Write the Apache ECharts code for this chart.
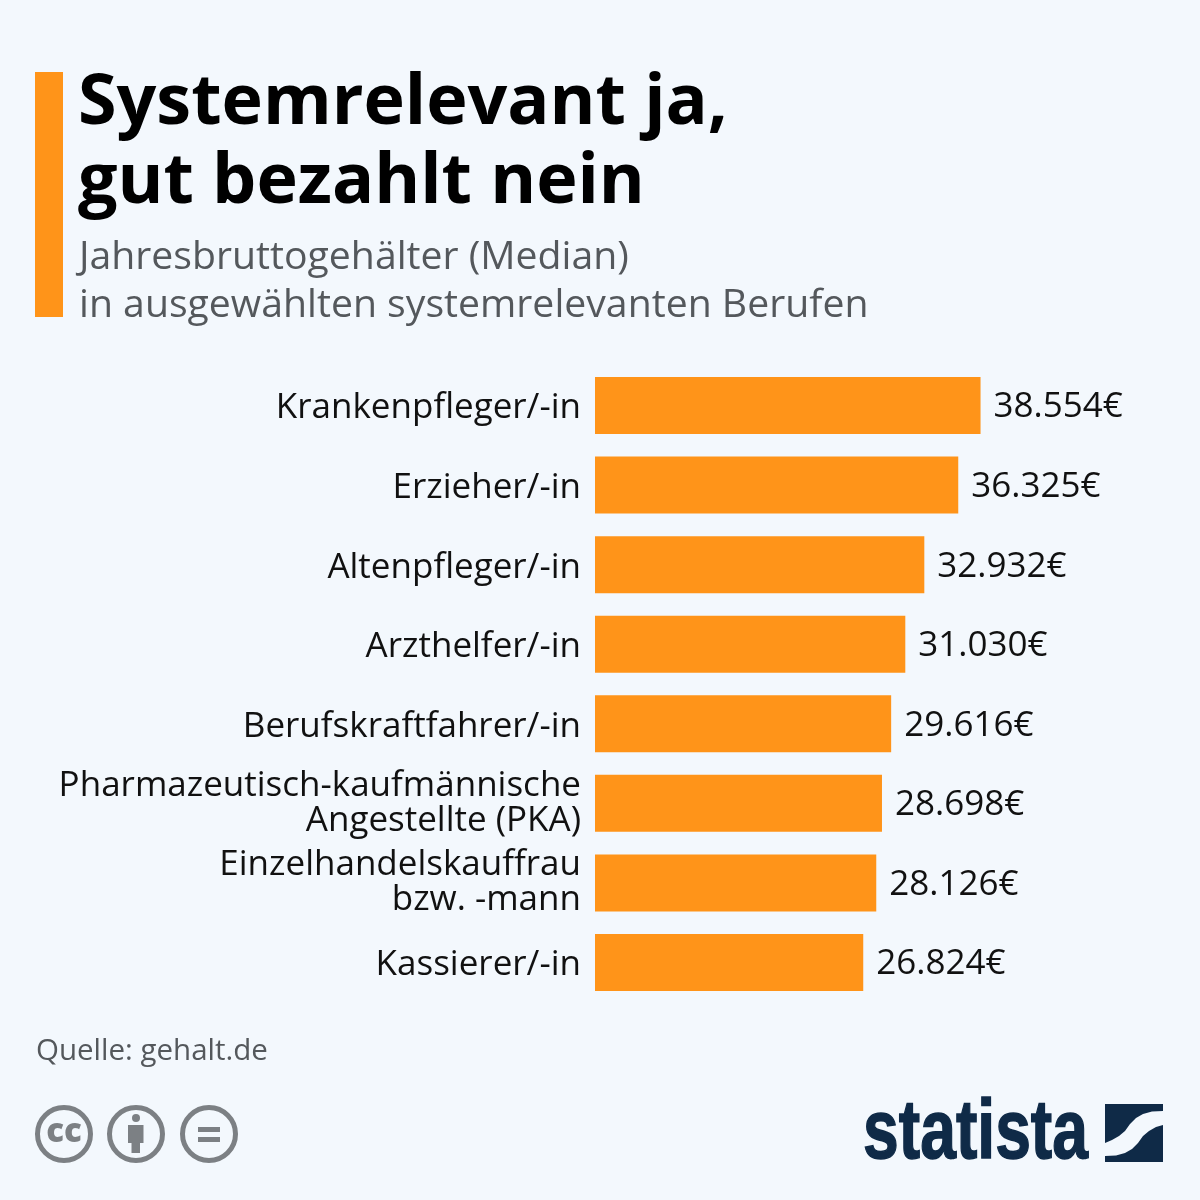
<!DOCTYPE html>
<html>
<head>
<meta charset="utf-8">
<style>
  html, body { margin: 0; padding: 0; background: #f3f8fd; }
  #chart { width: 1200px; height: 1200px; }
</style>
<script src="https://cdn.jsdelivr.net/npm/echarts@6/dist/echarts.min.js"></script>
</head>
<body>
<div id="chart"></div>
<script>
const categories = [
  'Krankenpfleger/-in',
  'Erzieher/-in',
  'Altenpfleger/-in',
  'Arzthelfer/-in',
  'Berufskraftfahrer/-in',
  'Pharmazeutisch-kaufmännische\nAngestellte (PKA)',
  'Einzelhandelskauffrau\nbzw. -mann',
  'Kassierer/-in'
];
const salaries = [38554, 36325, 32932, 31030, 29616, 28698, 28126, 26824];

const orange = '#ff9419';
const navy = '#0f2a47';
const iconGrey = '#7c8084';
const font = '"Open Sans", sans-serif';

// logo swoosh outlines
const logoTop = [[1105,1104],[1163,1104],[1163,1111],[1152,1111.5],[1143,1114],[1136,1118],[1130,1124],[1125,1131],[1119,1136],[1112,1140],[1105,1143]];
const logoBottom = [[1163,1125],[1163,1162],[1105,1162],[1105,1156],[1116,1155.5],[1125,1153],[1132,1149],[1138,1143],[1143,1136],[1149,1131],[1156,1127]];

const chart = echarts.init(document.getElementById('chart'));

const ring = (cx) => ({
  type: 'circle',
  shape: { cx: cx, cy: 1134, r: 26.5 },
  style: { fill: 'none', stroke: iconGrey, lineWidth: 5 }
});

const labelText = { fontFamily: font, fontSize: 35, lineHeight: 35, color: '#111', align: 'right' };

chart.setOption({
  backgroundColor: '#f3f8fd',
  animation: false,
  title: [
    {
      text: 'Systemrelevant ja,\ngut bezahlt nein',
      left: 78, top: 65, padding: 0,
      textStyle: { fontFamily: font, fontWeight: 700, fontSize: 70, lineHeight: 79, color: '#000' }
    },
    {
      text: 'Jahresbruttogehälter (Median)\nin ausgewählten systemrelevanten Berufen',
      left: 79, top: 234, padding: 0,
      textStyle: { fontFamily: font, fontWeight: 400, fontSize: 39.2, lineHeight: 48, color: '#54585c' }
    },
    {
      text: 'Quelle: gehalt.de',
      left: 36, top: 1033, padding: 0,
      textStyle: { fontFamily: font, fontWeight: 400, fontSize: 29.5, lineHeight: 38, color: '#54585c' }
    }
  ],
  grid: { left: 595, top: 365.7, width: 600, height: 636.6, containLabel: false },
  xAxis: { type: 'value', min: 0, max: 60000, show: false },
  yAxis: {
    type: 'category',
    data: categories,
    inverse: true,
    axisLine: { show: false },
    axisTick: { show: false },
    axisLabel: {
      margin: 14,
      ...labelText,
      // one-line labels sit a little lower than the two-line ones
      formatter: (v) => v.includes('\n')
        ? v.split('\n').map((line) => '{two|' + line + '}').join('\n')
        : '{one|' + v + '}',
      rich: {
        one: { ...labelText, padding: [6, 0, 0, 0] },
        two: { ...labelText }
      }
    }
  },
  series: [
    {
      type: 'bar',
      data: salaries,
      barWidth: 57,
      itemStyle: { color: orange },
      label: {
        show: true,
        position: 'right',
        distance: 13,
        offset: [0, 2],
        fontFamily: font,
        fontSize: 35,
        color: '#111',
        formatter: (p) => String(p.value).replace(/(\d{3})$/, '.$1') + '€'
      }
    }
  ],
  graphic: [
    { type: 'rect', shape: { x: 35, y: 72, width: 28, height: 245 }, style: { fill: orange } },

    // CC icons
    ring(64), ring(136), ring(209),
    { type: 'text', style: { x: 64, y: 1133, text: 'cc', fill: iconGrey, font: '800 33px "Open Sans", sans-serif', textAlign: 'center', textVerticalAlign: 'middle' } },
    { type: 'circle', shape: { cx: 136, cy: 1118, r: 4 }, style: { fill: iconGrey } },
    { type: 'rect', shape: { x: 128, y: 1125, width: 15.5, height: 18 }, style: { fill: iconGrey } },
    { type: 'rect', shape: { x: 131.5, y: 1142, width: 8.5, height: 11 }, style: { fill: iconGrey } },
    { type: 'rect', shape: { x: 198, y: 1127, width: 22, height: 5 }, style: { fill: iconGrey } },
    { type: 'rect', shape: { x: 198, y: 1137, width: 22, height: 5 }, style: { fill: iconGrey } },

    // Statista logo
    {
      type: 'text',
      x: 863, y: 1135, scaleX: 0.765,
      style: { x: 0, y: 0, text: 'statista', fill: navy, stroke: navy, lineWidth: 1.5, font: '700 84px "Liberation Sans", sans-serif', textVerticalAlign: 'middle' }
    },
    { type: 'polygon', shape: { points: logoTop }, style: { fill: navy } },
    { type: 'polygon', shape: { points: logoBottom }, style: { fill: navy } }
  ]
});
</script>
</body>
</html>
